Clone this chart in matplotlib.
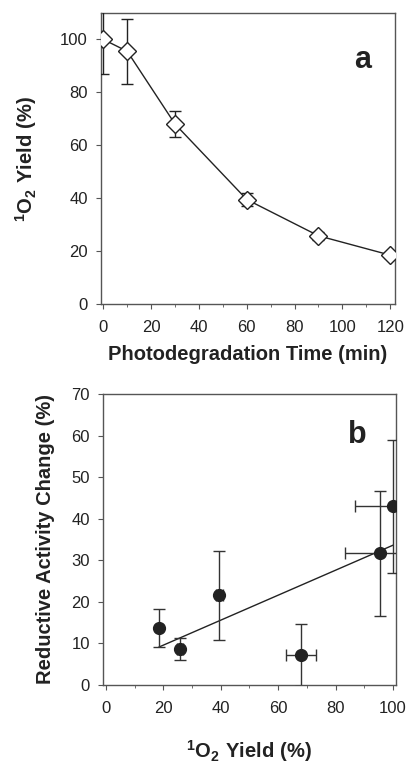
import matplotlib
matplotlib.use("Agg")
import matplotlib.pyplot as plt
import numpy as np
from matplotlib.ticker import MultipleLocator

plt.rcParams['font.family'] = ['Liberation Sans', 'DejaVu Sans']
plt.rcParams['mathtext.fontset'] = 'custom'
plt.rcParams['mathtext.rm'] = 'Liberation Sans'
plt.rcParams['mathtext.bf'] = 'Liberation Sans:bold'

# Panel a data
time_min = [0, 10, 30, 60, 90, 120]
yield_a = [100, 95.5, 68, 39.5, 25.8, 18.5]
yield_a_err = [13, 12.3, 5, 2.5, 1.5, 1.0]

# Panel b data
yield_b = [18.5, 25.8, 39.5, 68, 95.5, 100]
yield_b_err = [0.0, 1.0, 1.3, 5.1, 12.3, 13.2]
activity = [13.7, 8.6, 21.6, 7.2, 31.7, 43.0]
activity_err = [4.5, 2.7, 10.7, 7.4, 15.0, 16.0]

spine_c = '#555555'
text_c = '#222222'

fig = plt.figure(figsize=(4.08, 7.64), dpi=100)
ax1 = fig.add_axes([0.2475, 0.602, 0.7206, 0.381])
ax2 = fig.add_axes([0.253, 0.1034, 0.717, 0.381])

for ax in (ax1, ax2):
    for s in ax.spines.values():
        s.set_color(spine_c)
        s.set_linewidth(1.0)
    ax.tick_params(which='both', direction='out', color=spine_c, labelcolor=text_c,
                   labelsize=12, pad=6)
    ax.tick_params(which='major', length=3.5)
    ax.tick_params(which='minor', length=2.5)
    ax.tick_params(axis='x', pad=8)

# Panel a
ax1.errorbar(time_min, yield_a, yerr=yield_a_err, color='#222222', lw=1.0,
             marker='D', markersize=9, mfc='white', mec='#222222', mew=1.0,
             capsize=4, elinewidth=1.0, capthick=1.0, zorder=3)
ax1.set_xlim(-1, 122)
ax1.set_ylim(0, 110)
ax1.xaxis.set_major_locator(MultipleLocator(20))
ax1.xaxis.set_minor_locator(MultipleLocator(10))
ax1.yaxis.set_major_locator(MultipleLocator(20))
ax1.set_xlabel('Photodegradation Time (min)', fontsize=14.5, fontweight='bold',
               color=text_c, labelpad=7)
ax1.set_ylabel(r'$\mathbf{^1O_2\ Yield\ (\%)}$', fontsize=14.5, color=text_c, labelpad=15)
ax1.text(0.89, 0.84, 'a', transform=ax1.transAxes, fontsize=22, fontweight='bold',
         ha='center', va='center', color=text_c)

# Panel b
ax2.errorbar(yield_b, activity, xerr=yield_b_err, yerr=activity_err, fmt='o',
             color='#222222', markersize=8.5, ecolor='#333333', elinewidth=1.0,
             capsize=4, capthick=1.0, zorder=3)
slope, intercept = np.polyfit(yield_b, activity, 1)
xf = np.array([min(yield_b), max(yield_b)])
ax2.plot(xf, slope * xf + intercept, color='#222222', lw=1.0, zorder=2)
ax2.set_xlim(-1, 101)
ax2.set_ylim(0, 70)
ax2.xaxis.set_major_locator(MultipleLocator(20))
ax2.xaxis.set_minor_locator(MultipleLocator(10))
ax2.yaxis.set_major_locator(MultipleLocator(10))
ax2.set_xlabel(r'$\mathbf{^1O_2\ Yield\ (\%)}$', fontsize=14.5, color=text_c, labelpad=16)
ax2.set_ylabel('Reductive Activity Change (%)', fontsize=14.5, fontweight='bold',
               color=text_c, labelpad=12)
ax2.text(0.87, 0.86, 'b', transform=ax2.transAxes, fontsize=22, fontweight='bold',
         ha='center', va='center', color=text_c)

fig.savefig('out.png', dpi=100)
